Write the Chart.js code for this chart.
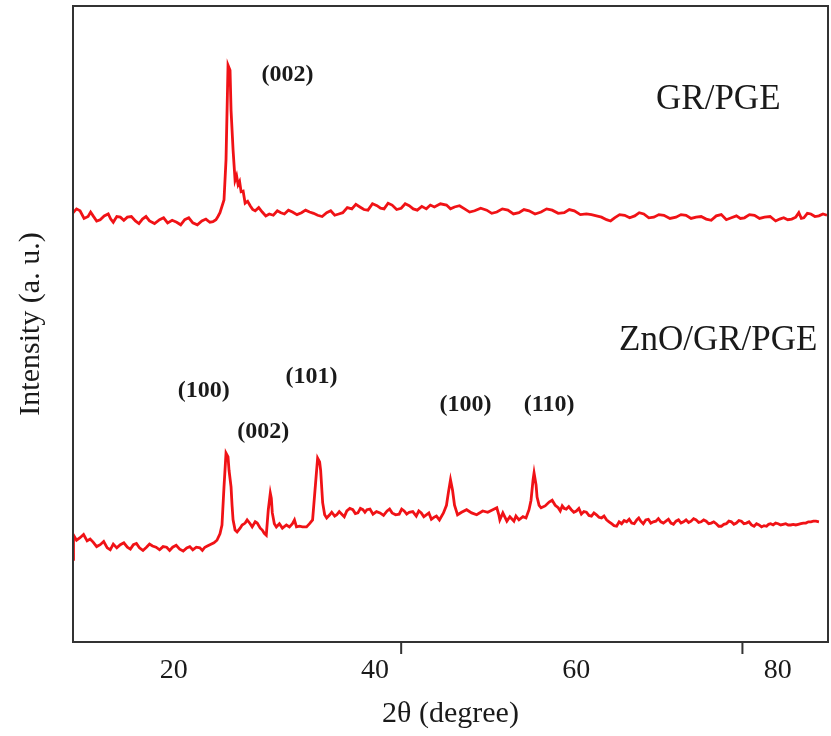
<!DOCTYPE html>
<html>
<head>
<meta charset="utf-8">
<script src="https://cdn.jsdelivr.net/npm/chart.js@4.4.1/dist/chart.umd.min.js"></script>
<style>
  html, body { margin: 0; padding: 0; background: #fff; }
  canvas { display: block; }
</style>
</head>
<body>
<canvas id="xrd" width="831" height="736"></canvas>
<script>
/* =========================
   DATA
========================= */
const xTicks = [20, 40, 60, 80]
const xTickMarks = [42.6, 76.5]   // the two little ticks on the bottom axis

// GR/PGE trace
const grTheta = [
  10.0,10.35,10.7,11.1,11.5,11.75,12.0,12.35,12.7,13.1,
  13.5,13.75,14.0,14.35,14.7,15.05,15.4,15.8,16.2,16.55,
  16.9,17.25,17.6,18.1,18.6,19.0,19.4,19.85,20.3,20.7,
  21.1,21.5,21.9,22.35,22.8,23.2,23.6,23.9,24.2,24.4,
  24.6,25.0,25.2,25.4,25.6,25.7,25.9,26.1,26.25,26.4,
  26.55,26.7,26.9,27.1,27.35,27.6,27.85,28.1,28.45,28.8,
  29.15,29.5,29.9,30.3,30.65,31.0,31.4,31.8,32.25,32.7,
  33.1,33.5,33.9,34.3,34.75,35.2,35.6,36.0,36.4,36.8,
  37.25,37.7,38.1,38.5,38.9,39.3,39.75,40.2,40.55,40.9,
  41.3,41.7,42.15,42.6,43.0,43.4,43.8,44.2,44.65,45.1,
  45.5,45.9,46.5,47.1,47.5,47.9,48.4,48.9,49.4,49.9,
  50.5,51.1,51.6,52.1,52.65,53.2,53.75,54.3,54.8,55.3,
  55.9,56.5,57.05,57.6,58.2,58.8,59.3,59.8,60.4,61.0,
  61.5,62.0,62.5,63.0,63.4,63.8,64.3,64.8,65.3,65.8,
  66.25,66.7,67.2,67.7,68.2,68.7,69.3,69.9,70.4,70.9,
  71.4,71.9,72.4,72.9,73.4,73.9,74.4,74.9,75.4,75.9,
  76.3,76.7,77.2,77.7,78.2,78.7,79.25,79.8,80.2,80.6,
  81.0,81.4,81.8,82.1,82.35,82.6,82.95,83.3,83.7,84.1,
  84.5,84.9
]
const grIntensity = [
  67.5,68.1,67.8,66.6,66.9,67.6,67.0,66.2,66.4,67.0,
  67.3,66.5,66.0,66.9,66.8,66.3,66.8,66.9,66.2,65.8,
  66.5,66.9,66.2,65.8,66.4,66.7,65.9,66.3,66.0,65.6,
  66.4,66.7,65.9,65.6,66.2,66.5,66.0,66.1,66.4,66.9,
  67.5,69.5,75.8,90.7,89.9,83.6,77.4,72.6,73.3,71.9,
  72.4,70.8,70.9,69.0,69.3,68.6,68.0,67.8,68.3,67.6,
  67.0,67.3,67.1,67.8,67.5,67.3,67.9,67.6,67.2,67.5,
  67.9,67.6,67.4,67.1,66.9,67.5,67.8,67.1,67.3,67.5,
  68.3,68.1,68.8,68.4,68.0,67.9,68.9,68.6,68.2,68.1,
  69.0,68.7,68.0,68.2,68.9,68.6,68.1,67.9,68.5,68.1,
  68.7,68.4,68.9,68.7,68.1,68.4,68.6,68.1,67.6,67.8,
  68.2,67.9,67.4,67.6,68.1,67.9,67.3,67.5,68.0,67.8,
  67.3,67.6,68.1,67.9,67.4,67.5,68.0,67.8,67.2,67.3,
  67.2,67.0,66.8,66.4,66.2,66.7,67.2,67.1,66.7,67.0,
  67.5,67.3,66.7,66.8,67.2,67.1,66.6,66.8,67.2,67.1,
  66.6,66.8,66.9,66.5,66.3,67.0,67.2,66.4,66.7,67.0,
  66.6,66.7,67.2,67.1,66.6,66.8,66.9,66.2,66.5,66.7,
  66.4,66.5,66.8,67.5,66.6,66.7,67.4,67.3,66.9,67.0,
  67.3,67.1
]

// ZnO/GR/PGE trace
const znoTheta = [
  10.0,10.05,10.35,10.7,11.05,11.4,11.7,12.0,12.35,12.7,
  13.05,13.4,13.7,14.0,14.35,14.7,15.05,15.4,15.7,16.0,
  16.3,16.6,16.95,17.3,17.6,17.9,18.25,18.6,18.95,19.3,
  19.6,19.9,20.25,20.6,20.95,21.3,21.6,21.9,22.25,22.6,
  22.85,23.1,23.35,23.6,24.0,24.3,24.6,24.8,25.0,25.2,
  25.4,25.5,25.7,25.8,25.9,26.1,26.3,26.6,26.8,27.1,
  27.3,27.6,27.8,28.1,28.3,28.6,28.8,29.0,29.2,29.4,
  29.6,29.7,29.8,30.0,30.2,30.5,30.8,31.2,31.5,31.8,
  32.0,32.2,32.5,32.8,33.2,33.5,33.8,34.0,34.2,34.3,
  34.5,34.6,34.8,35.0,35.2,35.5,35.7,36.0,36.2,36.45,
  36.7,36.95,37.2,37.5,37.8,38.05,38.3,38.55,38.8,39.0,
  39.2,39.5,39.8,40.15,40.5,40.85,41.2,41.45,41.7,42.05,
  42.4,42.65,42.9,43.15,43.4,43.75,44.1,44.35,44.6,44.85,
  45.1,45.35,45.6,45.85,46.1,46.4,46.8,47.1,47.3,47.5,
  47.7,47.9,48.2,48.6,49.1,49.6,50.1,50.7,51.2,51.7,
  52.1,52.3,52.4,52.7,53.1,53.4,53.8,54.0,54.3,54.7,
  55.0,55.3,55.5,55.7,55.8,56.0,56.1,56.3,56.5,56.9,
  57.3,57.6,57.9,58.2,58.4,58.6,58.8,59.0,59.25,59.5,
  59.75,60.0,60.25,60.5,60.75,61.0,61.25,61.5,61.75,62.0,
  62.25,62.5,62.75,63.0,63.25,63.5,63.75,64.0,64.25,64.5,
  64.75,65.0,65.25,65.5,65.75,66.0,66.2,66.4,66.65,66.9,
  67.15,67.4,67.65,67.9,68.15,68.4,68.65,68.9,69.15,69.4,
  69.65,69.9,70.15,70.4,70.65,70.9,71.15,71.4,71.65,71.9,
  72.15,72.4,72.65,72.9,73.15,73.4,73.65,73.9,74.15,74.4,
  74.65,74.9,75.15,75.4,75.65,75.9,76.15,76.4,76.65,76.9,
  77.15,77.4,77.65,77.9,78.15,78.4,78.65,78.9,79.1,79.3,
  79.55,79.8,80.05,80.3,80.55,80.8,81.05,81.3,81.55,81.8,
  82.05,82.3,82.55,82.8,83.05,83.3,83.55,83.8,84.1
]
const znoIntensity = [
  13.0,16.8,16.0,16.4,16.9,15.9,16.2,15.7,15.0,15.3,
  15.8,14.8,14.5,15.4,14.8,15.3,15.6,14.9,14.6,15.3,
  15.5,14.8,14.4,14.9,15.4,15.1,14.9,14.5,15.0,14.9,
  14.4,14.9,15.2,14.6,14.3,14.8,15.0,14.5,14.9,14.8,
  14.4,14.9,15.1,15.3,15.6,16.0,17.0,18.4,24.4,29.7,
  29.1,27.0,24.4,21.5,19.2,17.6,17.3,17.9,18.4,18.7,
  19.2,18.6,18.1,18.9,18.7,17.9,17.6,17.1,16.8,20.8,
  23.4,22.6,20.3,18.6,18.1,18.6,17.9,18.4,18.1,18.6,
  19.2,18.1,18.2,18.1,18.1,18.6,19.2,23.1,27.0,28.9,
  28.3,27.0,21.9,20.0,19.5,20.0,20.4,19.8,20.0,20.5,
  20.1,19.7,20.6,21.0,20.8,20.2,20.3,21.0,20.8,20.4,
  20.8,20.9,20.1,20.5,20.3,19.9,20.6,20.9,20.3,20.0,
  20.1,20.9,20.6,20.1,20.4,20.5,19.8,20.6,20.3,19.7,
  20.0,20.3,19.3,19.6,19.8,19.2,20.3,21.5,23.6,25.5,
  23.9,21.5,20.0,20.4,20.8,20.3,20.0,20.6,20.4,20.8,
  21.1,20.0,19.2,20.3,19.0,19.7,19.0,19.8,19.2,19.7,
  19.5,20.8,22.3,25.5,26.6,24.7,22.8,21.5,21.1,21.4,
  22.0,22.3,21.5,21.1,20.6,21.4,21.0,20.9,21.3,20.8,
  20.4,20.6,21.0,20.1,20.5,20.4,19.9,19.8,20.3,20.0,
  19.6,19.5,19.8,19.2,18.9,18.6,18.3,18.2,18.9,18.6,
  19.1,18.9,19.3,18.7,18.6,19.2,19.5,19.0,18.6,19.2,
  19.3,18.7,18.9,19.0,19.4,18.9,18.7,19.0,19.3,18.7,
  18.5,19.0,19.2,18.7,18.9,19.2,18.8,19.0,19.4,19.2,
  18.8,18.9,19.2,19.0,18.6,18.7,18.9,18.6,18.2,18.2,
  18.5,18.6,19.0,18.9,18.5,18.7,19.1,19.0,18.6,18.7,
  18.9,18.4,18.2,18.6,18.4,18.1,18.3,18.2,18.5,18.6,
  18.4,18.7,18.6,18.4,18.5,18.6,18.4,18.4,18.5,18.4,
  18.5,18.6,18.7,18.7,18.9,18.9,19.0,19.0,18.9
]

// peak / curve labels, placed in data coordinates
const labelText  = ["(002)", "GR/PGE", "ZnO/GR/PGE", "(100)", "(101)", "(002)", "(100)", "(110)"]
const labelTheta = [31.3, 74.1, 74.1, 23.0, 33.7, 28.9, 49.0, 57.3]
const labelInt   = [89.2, 85.3, 47.3, 39.5, 41.7, 33.0, 37.3, 37.3]
const labelBold  = [true, false, false, true, true, true, true, true]

/* =========================
   STYLE
========================= */
const RED = "rgb(240,18,22)"
const INK = "#1a1a1a"
const SERIF = "'Liberation Serif', 'Times New Roman', serif"

function pts(xs, ys){
  return xs.map((x, i) => ({ x: x, y: ys[i] }))
}

/* frame + the two odd bottom ticks */
const framePlugin = {
  id: "frame",
  afterDraw(chart){
    const { ctx, chartArea: a, scales } = chart
    ctx.save()
    ctx.strokeStyle = "#333"
    ctx.lineWidth = 2
    ctx.strokeRect(a.left, a.top, a.right - a.left, a.bottom - a.top)
    ctx.beginPath()
    xTickMarks.forEach(v => {
      const px = scales.x.getPixelForValue(v)
      ctx.moveTo(px, a.bottom)
      ctx.lineTo(px, a.bottom + 12)
    })
    ctx.stroke()
    ctx.restore()
  }
}

/* text labels on the plot */
const labelPlugin = {
  id: "peakLabels",
  afterDatasetsDraw(chart){
    const { ctx, scales } = chart
    ctx.save()
    ctx.fillStyle = INK
    ctx.textAlign = "center"
    ctx.textBaseline = "middle"
    labelText.forEach((t, i) => {
      ctx.font = labelBold[i] ? "bold 24px " + SERIF : "35px " + SERIF
      ctx.fillText(t, scales.x.getPixelForValue(labelTheta[i]), scales.y.getPixelForValue(labelInt[i]))
    })
    ctx.restore()
  }
}

new Chart(document.getElementById("xrd"), {
  type: "line",
  data: {
    datasets: [
      { label: "GR/PGE", data: pts(grTheta, grIntensity), borderColor: RED, borderWidth: 2.8, pointRadius: 0, tension: 0 },
      { label: "ZnO/GR/PGE", data: pts(znoTheta, znoIntensity), borderColor: RED, borderWidth: 2.8, pointRadius: 0, tension: 0 }
    ]
  },
  options: {
    responsive: false,
    animation: false,
    layout: { padding: { top: 6, right: 3, left: 0, bottom: 0 } },
    plugins: { legend: { display: false }, tooltip: { enabled: false } },
    scales: {
      x: {
        type: "linear",
        min: 10,
        max: 85,
        afterBuildTicks: s => { s.ticks = xTicks.map(v => ({ value: v })) },
        ticks: { font: { family: SERIF, size: 28 }, color: INK, padding: 12, maxRotation: 0 },
        grid: { display: false, drawTicks: false },
        border: { display: false },
        title: { display: true, text: "2θ (degree)", font: { family: SERIF, size: 30 }, color: INK, padding: { top: 0, bottom: 4 } },
        afterFit: s => { s.height = 94 }
      },
      y: {
        min: 0,
        max: 100,
        ticks: { display: false },
        grid: { display: false, drawTicks: false },
        border: { display: false },
        title: { display: true, text: "Intensity (a. u.)", font: { family: SERIF, size: 30 }, color: INK, padding: { top: 13, bottom: 0 } },
        afterFit: s => { s.width = 73 }
      }
    }
  },
  plugins: [framePlugin, labelPlugin]
})
</script>
</body>
</html>
